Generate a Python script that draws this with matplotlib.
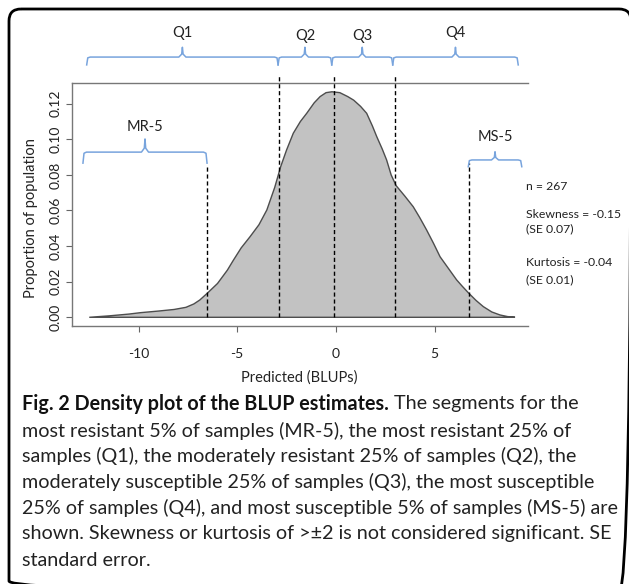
import matplotlib
matplotlib.use("Agg")
import matplotlib.pyplot as plt
from matplotlib.patches import FancyBboxPatch

# density curve
blup = [-12.5, -11.5, -10.5, -9.9, -9.0, -8.2, -7.6, -7.2, -6.9, -6.5, -6.0, -5.5,
        -5.2, -4.8, -4.35, -3.9, -3.5, -3.1, -2.8, -2.5, -2.16, -1.8, -1.48, -1.1,
        -0.8, -0.5, -0.2, 0.2, 0.6, 0.9, 1.25, 1.56, 1.85, 2.07, 2.35, 2.57, 2.8,
        3.05, 3.5, 3.92, 4.25, 4.6, 4.95, 5.28, 5.7, 6.12, 6.4, 6.71, 7.1, 7.47,
        7.9, 8.32, 8.7, 9.08]
density = [0.0, 0.0008, 0.0018, 0.0026, 0.0035, 0.0044, 0.0056, 0.0075, 0.0097,
           0.0137, 0.019, 0.0265, 0.032, 0.039, 0.0453, 0.052, 0.0603, 0.073,
           0.0846, 0.094, 0.1034, 0.110, 0.1146, 0.1205, 0.124, 0.1262, 0.1267,
           0.1262, 0.124, 0.122, 0.1185, 0.1146, 0.1075, 0.1015, 0.0945, 0.0884,
           0.080, 0.074, 0.068, 0.0621, 0.056, 0.049, 0.0415, 0.034, 0.0275, 0.021,
           0.0175, 0.0138, 0.0095, 0.006, 0.003, 0.0013, 0.0004, 0.0]

quartile_cuts = [-2.87, -0.1, 3.0]
mr5_cut = -6.52
ms5_cut = 6.75

quartile_names = ["Q1", "Q2", "Q3", "Q4"]
quartile_spans = [(-12.63, -2.93), (-2.93, -0.21), (-0.21, 2.88), (2.88, 9.24)]
quartile_label_y = [0.1597, 0.1580, 0.1580, 0.1597]
tail_names = ["MR-5", "MS-5"]
tail_spans = [(-12.82, -6.53), (6.71, 9.42)]

stats_lines = ["n = 267", "Skewness = -0.15", "(SE 0.07)", "Kurtosis = -0.04", "(SE 0.01)"]
stats_y = [186, 214, 229, 262, 280]

caption_bold = "Fig. 2 Density plot of the BLUP estimates."
caption_lines = [" The segments for the",
                 "most resistant 5% of samples (MR-5), the most resistant 25% of",
                 "samples (Q1), the moderately resistant 25% of samples (Q2), the",
                 "moderately susceptible 25% of samples (Q3), the most susceptible",
                 "25% of samples (Q4), and most susceptible 5% of samples (MS-5) are",
                 "shown. Skewness or kurtosis of >\u00b12 is not considered significant. SE",
                 "standard error."]

W, H = 629, 584
fig = plt.figure(figsize=(W / 100, H / 100), dpi=100)
plt.rcParams['font.family'] = ['Lato', 'DejaVu Sans']

ax = fig.add_axes([71.7 / W, (H - 326) / H, (528 - 71.7) / W, (326 - 83.3) / H])
ax.set_xlim(-13.39, 9.736)
ax.set_ylim(-0.00489, 0.13146)

ax.fill(blup, density, facecolor="#c2c2c2", edgecolor="#4d4d4d", linewidth=1.0)

dash = dict(color="black", linewidth=1.0, linestyle=(0, (3, 2)), clip_on=False)
for c in quartile_cuts:
    ax.plot([c, c], [0, 0.1361], **dash)
ax.plot([mr5_cut, mr5_cut], [0, 0.0845], **dash)
ax.plot([ms5_cut, ms5_cut], [0, 0.0867], **dash)


def brace(x0, x1, yh, yend, ytop, d=0.18):
    xm = (x0 + x1) / 2
    xs = [x0, x0 + d * 0.3, x0 + d, xm - d, xm - d * 0.2, xm, xm + d * 0.2, xm + d,
          x1 - d, x1 - d * 0.3, x1]
    ys = [yend, yh - (yh - yend) * 0.1, yh, yh, yh + (ytop - yh) * 0.3, ytop,
          yh + (ytop - yh) * 0.3, yh, yh, yh - (yh - yend) * 0.1, yend]
    ax.plot(xs, ys, color="#78a4dd", linewidth=1.1, clip_on=False)
    return xm


for name, (x0, x1), ly in zip(quartile_names, quartile_spans, quartile_label_y):
    xm = brace(x0, x1, 0.1462, 0.1418, 0.1517)
    ax.text(xm, ly, name, ha="center", va="center", fontsize=10.5, color="#222")

tail_y = [(0.0928, 0.0866, 0.1002, 0.1070), (0.0884, 0.0846, 0.0930, 0.1013)]
for name, (x0, x1), (yh, ye, yt, ly) in zip(tail_names, tail_spans, tail_y):
    xm = brace(x0, x1, yh, ye, yt)
    ax.text(xm, ly, name, ha="center", va="center", fontsize=10.5, color="#222")

ax.spines["right"].set_visible(False)
for s in ["left", "top", "bottom"]:
    ax.spines[s].set_color("#777777")
    ax.spines[s].set_linewidth(1.0)

ax.set_xticks([-10, -5, 0, 5])
ax.set_xticklabels(["-10", "-5", "0", "5"])
ax.set_yticks([0, 0.02, 0.04, 0.06, 0.08, 0.10, 0.12])
ax.set_yticklabels(["0.00", "0.02", "0.04", "0.06", "0.08", "0.10", "0.12"],
                   rotation=90, va="center")
ax.tick_params(axis="x", length=4, width=0.8, color="#666", pad=12,
               labelsize=10, labelcolor="#222")
ax.tick_params(axis="y", length=4, width=0.8, color="#666", pad=3,
               labelsize=10, labelcolor="#222")
ax.set_xlabel("Predicted (BLUPs)", fontsize=10.5, color="#222")
ax.xaxis.set_label_coords(0.498, -0.182)
ax.set_ylabel("Proportion of population", fontsize=10.5, color="#222")
ax.yaxis.set_label_coords(-0.074, 0.445)

# overlay in pixel space for the frame
ov = fig.add_axes([0, 0, 1, 1], zorder=-1)
ov.set_xlim(0, W)
ov.set_ylim(H, 0)
ov.axis("off")
frame = FancyBboxPatch((9, 9), 622, 584, boxstyle="round,pad=0,rounding_size=12",
                       facecolor="none", edgecolor="black", linewidth=2.0, clip_on=False)
ov.add_patch(frame)

for t, y in zip(stats_lines, stats_y):
    fig.text(526 / W, 1 - y / H, t, ha="left", va="center", fontsize=8.8, color="#222")

# caption: fit the font size to the widest line of the reference
renderer = fig.canvas.get_renderer()
cap_font = ['Lato', 'DejaVu Sans']
probe = fig.text(0, 0, caption_lines[4], fontsize=12, family=cap_font)
cap_size = 12 * 596 / probe.get_window_extent(renderer).width
probe.remove()

line_y = [404, 431, 456, 482, 508, 534, 560]
bold = fig.text(22 / W, 1 - line_y[0] / H, caption_bold, ha="left", va="center",
                fontsize=cap_size, fontweight="bold", family=cap_font, color="#111")
bb = bold.get_window_extent(renderer)
fig.text(bb.x1 / W, 1 - line_y[0] / H, caption_lines[0], ha="left", va="center",
         fontsize=cap_size, family=cap_font, color="#222")
for t, y in zip(caption_lines[1:], line_y[1:]):
    fig.text(22 / W, 1 - y / H, t, ha="left", va="center", fontsize=cap_size,
             family=cap_font, color="#222")

fig.savefig("out.png", dpi=100)
